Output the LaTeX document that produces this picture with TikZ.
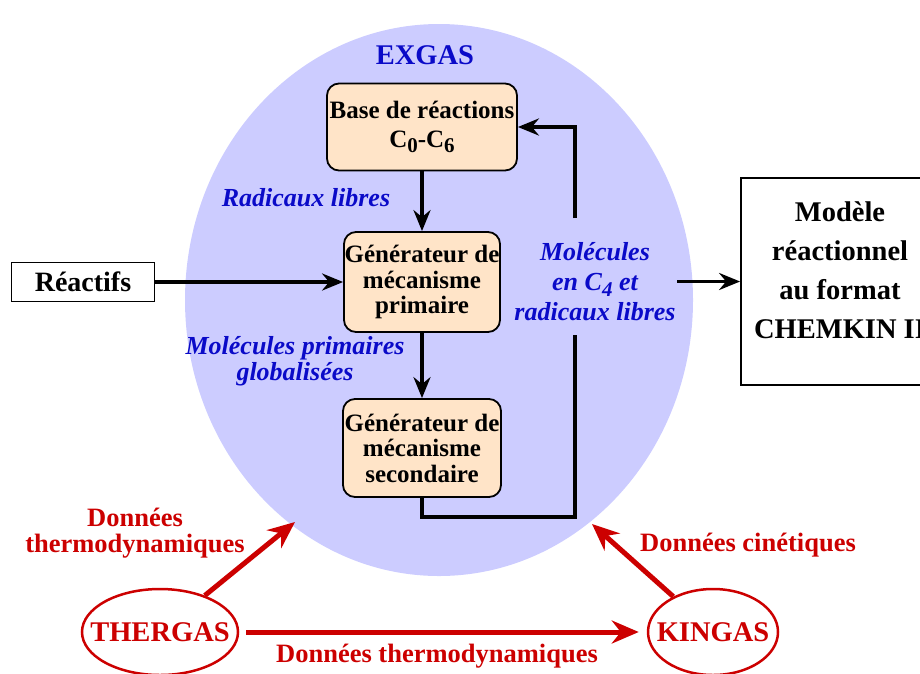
\documentclass[tikz,border=0pt]{standalone}
\usepackage{fontspec}
\setmainfont{Liberation Serif}
\usetikzlibrary{shapes.geometric,arrows.meta}
\definecolor{lav}{RGB}{204,204,255}
\definecolor{bisq}{RGB}{255,228,200}
\definecolor{tblue}{RGB}{10,10,200}
\definecolor{tred}{RGB}{204,0,0}
\newcommand\lowdig[1]{\raisebox{-0.22em}{\fontsize{21}{21}\selectfont #1}}
\begin{document}
\begin{tikzpicture}[x=1pt,y=-1pt,
  box/.style={draw=black, line width=1.8pt, fill=bisq, rounded corners=12pt, align=center, inner sep=0pt},
  lbl/.style={text=tblue, font=\fontsize{26}{30}\selectfont\bfseries\itshape, align=center, inner sep=0pt},
  rlbl/.style={text=tred, font=\fontsize{26.5}{26}\selectfont\bfseries, align=center, inner sep=0pt},
  arr/.style={line width=3.8pt, -{Stealth[length=21pt,width=17pt,inset=7pt]}},
  rarr/.style={draw=tred, line width=5pt, -{Stealth[length=27pt,width=23pt,inset=9pt]}},
  gas/.style={ellipse, draw=tred, line width=2.5pt, text=tred, font=\fontsize{28.5}{28}\selectfont\bfseries, inner ysep=0pt}]
\useasboundingbox (0,0) rectangle (920,673);
\fill[lav] (439,300) ellipse [x radius=254, y radius=276];
\coordinate (t1) at (295,522);
\coordinate (t2) at (592,524);

\node[text=tblue, font=\fontsize{28.5}{28}\selectfont\bfseries] (exgas) at (425,55) {EXGAS};

\node[box, minimum width=190pt, minimum height=87pt, font=\fontsize{25}{29}\selectfont\bfseries] (base) at (422,127) {Base de réactions\\C\lowdig{0}-C\lowdig{6}};
\node[box, minimum width=156pt, minimum height=100pt, font=\fontsize{25}{25.5}\selectfont\bfseries] (gen1) at (422,282) {Générateur de\\mécanisme\\primaire};
\node[box, minimum width=158pt, minimum height=98pt, font=\fontsize{25}{25.5}\selectfont\bfseries] (gen2) at (422,448) {Générateur de\\mécanisme\\secondaire};

\node[draw=black, line width=1.8pt, fill=white, minimum width=143pt, minimum height=39pt, inner sep=0pt, font=\fontsize{28}{28}\selectfont\bfseries] (reac) at (83,282) {Réactifs};
\node[draw=black, line width=1.8pt, fill=white, minimum width=198pt, minimum height=207pt, inner sep=0pt, font=\fontsize{28.5}{39}\selectfont\bfseries] (model) at (840,281.5) {\raisebox{3pt}[0pt][0pt]{\begin{tabular}{@{}c@{}}Modèle\\réactionnel\\au format\\CHEMKIN II\end{tabular}}};

\node[lbl] (rl) at (306,198) {Radicaux libres};
\node[lbl, font=\fontsize{26}{26}\selectfont\bfseries\itshape] (mpg) at (295,361) {Molécules primaires\\globalisées};
\node[lbl] (mc4) at (595,282) {Molécules\\en C\lowdig{\itshape 4} et\\radicaux libres};

\node[gas, inner xsep=-15pt, minimum width=156pt, minimum height=86pt] (thergas) at (160,632) {THERGAS};
\node[gas, inner xsep=-11pt, minimum width=130pt, minimum height=86pt] (kingas) at (713,632) {KINGAS};

\node[rlbl] (dt1) at (135,533) {Données\\thermodynamiques};
\node[rlbl] (dc) at (748,545) {Données cinétiques};
\node[rlbl] (dt2) at (437,656) {Données thermodynamiques};

% black connectors
\draw[arr] (base) -- (gen1);
\draw[arr] (gen1) -- (gen2);
\draw[arr] (reac) -- (gen1);
\coordinate (c1) at (575,517);
\coordinate (c2) at (575,335);
\coordinate (c3) at (575,218);
\draw[line width=3.8pt, line join=miter] (gen2.south) |- (c1) -- (c2);
\draw[arr, line join=miter] (c3) |- (base.east);
\coordinate (o1) at (677,281.5);
\draw[arr] (o1) -- (model);

% red connectors
\draw[rarr] (thergas) -- (t1);
\draw[rarr] (kingas) -- (t2);
\draw[rarr, shorten <=7pt, shorten >=8pt] (thergas.east) -- (kingas.west);
\end{tikzpicture}
\end{document}
